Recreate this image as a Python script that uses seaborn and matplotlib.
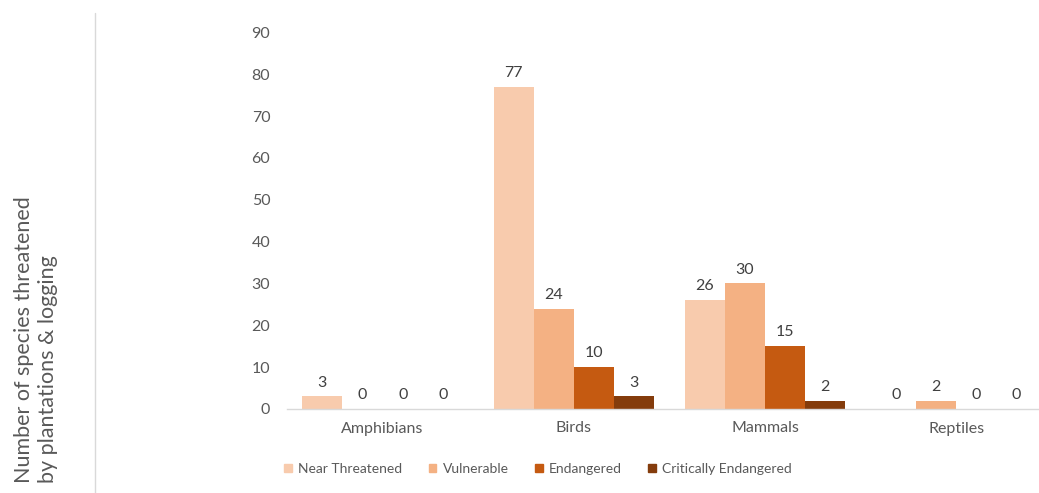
import matplotlib
matplotlib.use("Agg")
import matplotlib.pyplot as plt
import seaborn as sns
import pandas as pd
from matplotlib.lines import Line2D

categories = ["Amphibians", "Birds", "Mammals", "Reptiles"]
statuses = ["Near Threatened", "Vulnerable", "Endangered", "Critically Endangered"]
near_threatened = [3, 77, 26, 0]
vulnerable = [0, 24, 30, 2]
endangered = [0, 10, 15, 0]
critically_endangered = [0, 3, 2, 0]
yticks = [0, 10, 20, 30, 40, 50, 60, 70, 80, 90]
colors = ["#F8CBAD", "#F4B183", "#C55A11", "#843C0C"]

sns.set_theme(style="white")
plt.rcParams["font.family"] = ["Lato", "DejaVu Sans"]

rows = []
for s, vals in zip(statuses, [near_threatened, vulnerable, endangered, critically_endangered]):
    for c, v in zip(categories, vals):
        rows.append({"Group": c, "Status": s, "Count": v})
df = pd.DataFrame(rows)

fig = plt.figure(figsize=(10.39, 4.93), dpi=100)
ax = fig.add_axes([287 / 1039, 84 / 493, 765 / 1039, 376.6 / 493])

sns.barplot(data=df, x="Group", y="Count", hue="Status", order=categories,
            hue_order=statuses, palette=colors, width=0.84, gap=0,
            saturation=1, ax=ax, legend=False, linewidth=0, errorbar=None)

for cont in ax.containers:
    ax.bar_label(cont, padding=5, fontsize=11.5, color="#404040")

ax.set_ylim(0, 90)
ax.set_yticks(yticks)
ax.set_xlim(-0.5, 3.5)
for sp in ["top", "right", "left"]:
    ax.spines[sp].set_visible(False)
ax.spines["bottom"].set_color("#D9D9D9")
ax.spines["bottom"].set_linewidth(1)
ax.tick_params(axis="y", length=0, pad=12, labelsize=11.5, labelcolor="#595959")
ax.tick_params(axis="x", length=0, pad=9, labelsize=11.5, labelcolor="#595959")
ax.set_xlabel("")
ax.set_ylabel("")

fig.text(36 / 1039, 1 - 340 / 493, "Number of species threatened\nby plantations & logging",
         rotation=90, ha="center", va="center", multialignment="left",
         fontsize=15.5, color="#595959", linespacing=1.2)

fig.add_artist(Line2D([95 / 1039, 95 / 1039], [0, 1 - 13 / 493],
                      transform=fig.transFigure, color="#D9D9D9", linewidth=1))

handles = [plt.Rectangle((0, 0), 1, 1, color=c) for c in colors]
fig.legend(handles, statuses, loc="center", bbox_to_anchor=(538 / 1039, 1 - 469 / 493),
           ncol=4, frameon=False, fontsize=10, labelcolor="#595959",
           handlelength=0.55, handleheight=0.55, handletextpad=0.45, columnspacing=1.9)

fig.savefig("out.png", dpi=100)
